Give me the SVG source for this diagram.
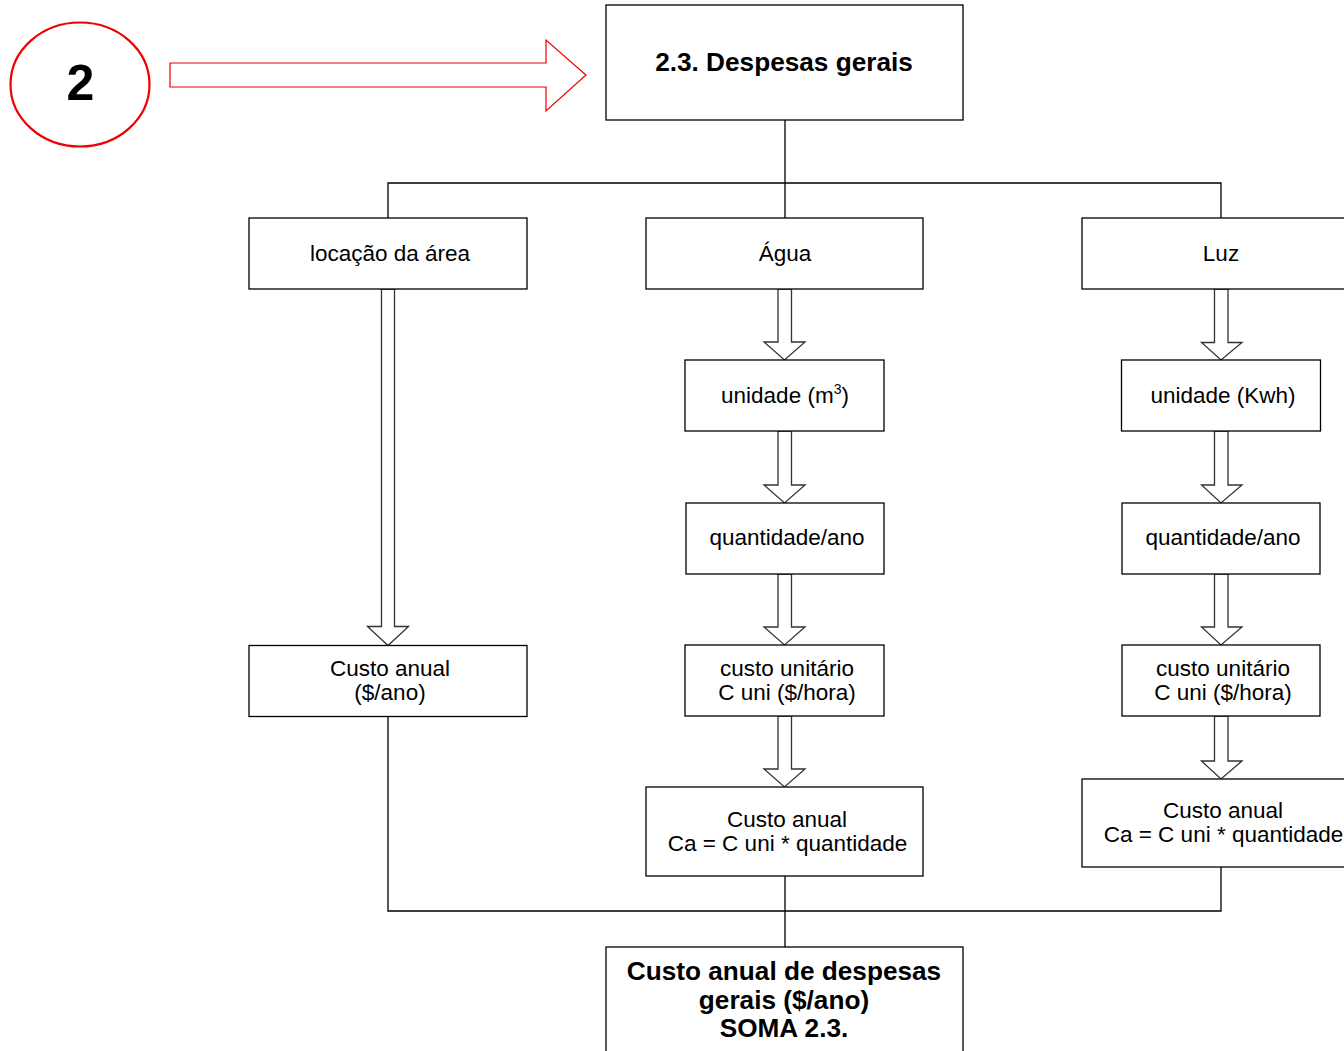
<svg xmlns="http://www.w3.org/2000/svg" width="1344" height="1051" viewBox="0 0 1344 1051">
  <style>
    .box { fill: #fff; stroke: #000; stroke-width: 1.3; }
    .lbl { font-family: "Liberation Sans", Arial, sans-serif; font-size: 22.5px; fill: #000; text-anchor: middle; }
    .bold { font-family: "Liberation Sans", Arial, sans-serif; font-weight: bold; font-size: 26.2px; fill: #000; text-anchor: middle; }
    .wire { fill: none; stroke: #000; stroke-width: 1.3; }
    .flow { fill: #fff; stroke: #333; stroke-width: 1.3; stroke-linejoin: miter; }
  </style>

  <rect width="1344" height="1051" fill="#fff"/>

  <!-- step marker -->
  <g id="step-marker">
    <ellipse cx="80" cy="84.5" rx="69.5" ry="62" fill="#fff" stroke="#e00" stroke-width="2.2"/>
    <text x="80.5" y="100" font-family="Liberation Sans, Arial, sans-serif" font-weight="bold" font-size="50" text-anchor="middle">2</text>
  </g>
  <g id="step-pointer">
    <polygon points="170,63 546,63 546,40 586,75 546,111 546,87 170,87" fill="#fff" stroke="#e00" stroke-width="1.2"/>
  </g>

  <!-- thin connectors -->
  <g id="connectors">
    <path class="wire" d="M785 120 V218"/>
    <path class="wire" d="M388 218 V183 H1221 V218"/>
    <path class="wire" d="M388 716 V911 H1221 V867"/>
    <path class="wire" d="M785 876 V947"/>

    <!-- hollow block arrows -->
    <polygon class="flow" points="381.5,289 394.5,289 394.5,626.5 408.5,626.5 388,645.5 367.5,626.5 381.5,626.5"/>

    <polygon class="flow" points="778,289 791.5,289 791.5,342 805,342 784.5,360 764,342 778,342"/>
    <polygon class="flow" points="778,431 791.5,431 791.5,485 805,485 784.5,503 764,485 778,485"/>
    <polygon class="flow" points="778,574 791.5,574 791.5,627 805,627 784.5,645 764,627 778,627"/>
    <polygon class="flow" points="778,716 791.5,716 791.5,769 805,769 784.5,787 764,769 778,769"/>

    <polygon class="flow" points="1214.5,289 1228,289 1228,342.5 1242,342.5 1221,360 1201.5,342.5 1214.5,342.5"/>
    <polygon class="flow" points="1214.5,431 1228,431 1228,485 1242,485 1221,503 1201.5,485 1214.5,485"/>
    <polygon class="flow" points="1214.5,574 1228,574 1228,627 1242,627 1221,645 1201.5,627 1214.5,627"/>
    <polygon class="flow" points="1214.5,716 1228,716 1228,761 1242,761 1221,779 1201.5,761 1214.5,761"/>
  </g>

  <!-- header -->
  <g id="despesas-gerais">
    <rect class="box" x="606" y="5" width="357" height="115"/>
    <text class="bold" x="784" y="71">2.3. Despesas gerais</text>
  </g>

  <!-- left branch -->
  <g id="locacao">
    <rect class="box" x="249" y="218" width="278" height="71"/>
    <text class="lbl" x="390" y="261">locação da área</text>
  </g>
  <g id="locacao-custo">
    <rect class="box" x="249" y="645.5" width="278" height="71"/>
    <text class="lbl" x="390" y="676">Custo anual</text>
    <text class="lbl" x="390" y="700">($/ano)</text>
  </g>

  <!-- water branch -->
  <g id="agua">
    <rect class="box" x="646" y="218" width="277" height="71"/>
    <text class="lbl" x="785" y="261">Água</text>
  </g>
  <g id="agua-unidade">
    <rect class="box" x="685" y="360" width="199" height="71"/>
    <text class="lbl" x="785" y="403">unidade (m<tspan font-size="14" dy="-9">3</tspan><tspan dy="9">)</tspan></text>
  </g>
  <g id="agua-quantidade">
    <rect class="box" x="686" y="503" width="198" height="71"/>
    <text class="lbl" x="787" y="545">quantidade/ano</text>
  </g>
  <g id="agua-custo-unitario">
    <rect class="box" x="685" y="645" width="199" height="71"/>
    <text class="lbl" x="787" y="676">custo unitário</text>
    <text class="lbl" x="787" y="700">C uni ($/hora)</text>
  </g>
  <g id="agua-custo-anual">
    <rect class="box" x="646" y="787" width="277" height="89"/>
    <text class="lbl" x="787" y="827">Custo anual</text>
    <text class="lbl" x="787.5" y="851">Ca = C uni * quantidade</text>
  </g>

  <!-- electricity branch -->
  <g id="luz">
    <rect class="box" x="1082" y="218" width="278" height="71"/>
    <text class="lbl" x="1221" y="261">Luz</text>
  </g>
  <g id="luz-unidade">
    <rect class="box" x="1121.5" y="360" width="199" height="71"/>
    <text class="lbl" x="1223" y="403">unidade (Kwh)</text>
  </g>
  <g id="luz-quantidade">
    <rect class="box" x="1122" y="503" width="198" height="71"/>
    <text class="lbl" x="1223" y="545">quantidade/ano</text>
  </g>
  <g id="luz-custo-unitario">
    <rect class="box" x="1122" y="645" width="198" height="71"/>
    <text class="lbl" x="1223" y="676">custo unitário</text>
    <text class="lbl" x="1223" y="700">C uni ($/hora)</text>
  </g>
  <g id="luz-custo-anual">
    <rect class="box" x="1082" y="779" width="278" height="88"/>
    <text class="lbl" x="1223" y="818">Custo anual</text>
    <text class="lbl" x="1223.5" y="842">Ca = C uni * quantidade</text>
  </g>

  <!-- total -->
  <g id="soma">
    <rect class="box" x="606" y="947" width="357" height="120"/>
    <text class="bold" x="784" y="980">Custo anual de despesas</text>
    <text class="bold" x="784" y="1009">gerais ($/ano)</text>
    <text class="bold" x="784" y="1037">SOMA 2.3.</text>
  </g>
</svg>
